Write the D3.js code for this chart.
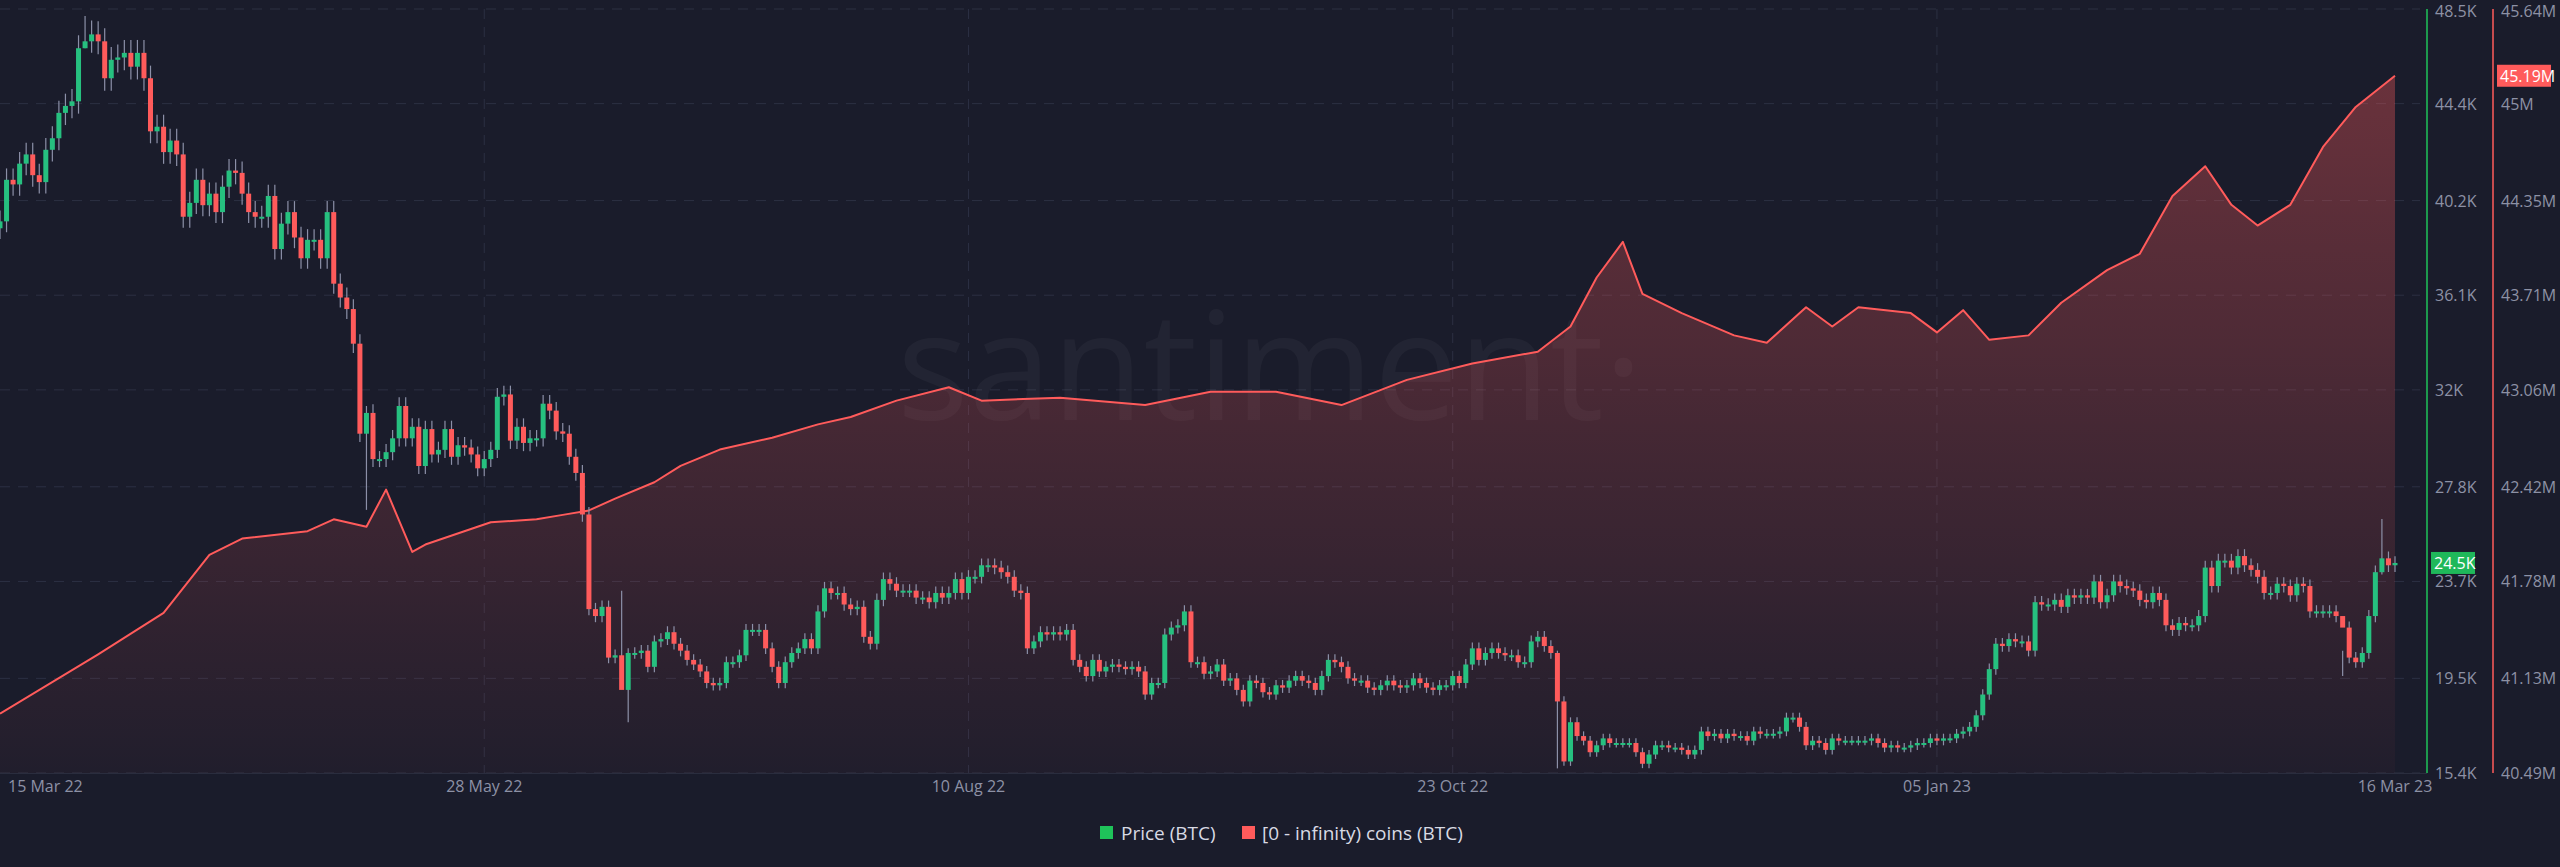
<!DOCTYPE html>
<html>
<head>
<meta charset="utf-8">
<script src="https://cdn.jsdelivr.net/npm/d3@7"></script>
<style>
  html, body { margin: 0; padding: 0; background: #1a1c2b; overflow: hidden; }
  text { font-family: "Open Sans", "DejaVu Sans", sans-serif; }
</style>
</head>
<body>
<script>
const w = 2560, h = 867;
const green = "#26c07f", red = "#ff5b5b", txt = "#8d91a5", grid = "#2c3043";

// daily closes (K USD), 15 Mar 2022 .. 16 Mar 2023
const closes = [
  39.3,41.1,40.9,41.8,42.2,41.3,41.0,42.4,42.9,44.0,44.3,44.5,46.8,47.1,47.4,47.1,45.5,
  46.3,46.4,46.6,46.0,46.6,45.5,43.2,43.4,42.3,42.8,42.2,39.5,40.1,41.1,40.0,40.5,39.7,40.8,41.5,41.4,40.5,39.7,39.5,39.5,40.4,38.1,39.2,39.7,38.6,37.7,
  38.5,38.5,37.7,39.7,36.6,36.0,35.5,34.0,30.1,31.0,29.0,29.0,29.3,29.9,31.3,29.9,30.4,28.7,30.3,29.2,29.4,30.3,29.1,29.6,29.5,29.2,28.6,29.0,29.4,31.7,31.8,
  29.8,30.4,29.7,29.9,29.9,31.4,31.1,30.2,30.1,29.1,28.4,26.6,22.5,22.2,22.6,20.4,20.5,19.0,20.6,20.6,20.7,20.0,21.1,21.2,21.5,21.0,20.7,20.3,20.1,19.8,
  19.3,19.2,19.3,20.2,20.2,20.5,21.6,21.6,21.6,20.8,20.0,19.3,20.2,20.6,20.8,21.2,20.8,22.4,23.4,23.2,23.2,22.7,22.5,22.6,21.3,21.0,22.9,23.8,23.6,23.3,23.3,
  23.3,23.0,23.0,22.8,23.2,23.0,23.2,23.8,23.2,23.9,23.9,24.4,24.4,24.3,24.1,23.9,23.3,23.2,20.8,21.1,21.5,21.4,21.5,21.4,21.6,20.3,20.0,19.6,20.3,19.8,20.0,
  20.1,20.0,19.9,20.0,19.8,18.8,19.3,19.3,21.4,21.7,21.8,22.4,20.2,20.2,19.7,19.8,20.1,19.4,19.5,19.0,18.5,19.4,19.3,18.9,18.8,19.2,19.1,19.4,19.6,19.4,
  19.3,19.0,19.6,20.3,20.2,20.0,19.5,19.4,19.4,19.1,19.0,19.2,19.4,19.2,19.1,19.2,19.5,19.3,19.1,19.0,19.2,19.2,19.6,19.3,20.1,20.8,20.3,20.6,20.8,20.6,20.5,
  20.5,20.2,20.2,21.1,21.3,20.9,20.6,18.5,15.9,17.6,17.0,16.8,16.3,16.6,16.9,16.7,16.7,16.7,16.7,16.3,15.8,16.2,16.6,16.6,16.5,16.5,16.4,16.2,16.4,17.2,
  17.0,17.1,16.9,17.1,17.0,17.0,16.8,17.2,17.1,17.1,17.1,17.2,17.8,17.8,17.4,16.6,16.8,16.7,16.4,16.9,16.8,16.8,16.8,16.8,16.8,16.9,16.7,16.5,16.6,16.5,16.5,
  16.6,16.7,16.7,16.9,16.8,16.9,16.9,17.1,17.2,17.4,17.9,18.8,19.9,21.0,20.9,21.2,21.1,21.1,20.7,22.8,22.7,22.7,22.9,22.6,23.1,23.0,23.1,23.0,23.7,22.8,23.1,
  23.7,23.5,23.4,23.3,22.9,22.8,23.2,22.9,21.8,21.6,21.9,21.8,21.8,22.2,24.3,23.5,24.6,24.6,24.3,24.8,24.4,24.2,23.9,23.2,23.2,23.6,23.5,23.1,
  23.6,23.5,22.4,22.4,22.4,22.4,22.2,21.7,20.4,20.2,20.6,22.2,24.1,24.7,24.4,24.5
];
const firstOpen = 39.0;
// notable wick extremes: [day index, high, low]
const wickExtremes = [[13,48.2,46.8],[14,48.0,46.6],[56,31.3,26.8],[95,23.3,20.1],[96,20.8,17.6],[238,20.7,15.6],[364,26.4,24.0],[358,20.7,19.6]];

// [0 - infinity) coins holdings readings (M BTC): [day index, value]
const holdDays = [0,15,25,32,37,47,51,56,59,63,65,75,82,86,90,94,100,104,110,118,125,130,137,145,150,162,175,185,195,205,215,225,235,240,244,248,251,257,265,270,276,280,284,292,296,300,304,310,315,322,327,332,337,341,345,350,355,360,366];
const holdVals = [40.89,41.29,41.57,41.96,42.07,42.12,42.20,42.15,42.40,41.98,42.03,42.18,42.20,42.23,42.26,42.34,42.45,42.56,42.67,42.75,42.84,42.89,43.00,43.09,43.00,43.02,42.97,43.06,43.06,42.97,43.14,43.25,43.33,43.50,43.83,44.07,43.72,43.59,43.44,43.39,43.63,43.50,43.63,43.59,43.46,43.61,43.41,43.44,43.66,43.88,43.99,44.38,44.58,44.32,44.18,44.32,44.71,44.98,45.19];

const priceTicks = [15.4,19.5,23.7,27.8,32,36.1,40.2,44.4,48.5];
const holdTicks = ["40.49M","41.13M","41.78M","42.42M","43.06M","43.71M","44.35M","45M","45.64M"];
const dateTicks = ["2022-03-15","2022-05-28","2022-08-10","2022-10-23","2023-01-05","2023-03-16"];
const dateLabels = ["15 Mar 22","28 May 22","10 Aug 22","23 Oct 22","05 Jan 23","16 Mar 23"];

const t0 = new Date(2022, 2, 15);
const day = i => d3.timeDay.offset(t0, i);

const x = d3.scaleTime().domain([t0, day(366)]).range([0, 2395]);
const yP = d3.scaleLinear().domain([15.4, 48.5]).range([773, 9]);
const yH = d3.scaleLinear().domain([40.49, 45.64]).range([773, 9]);

const svg = d3.select("body").append("svg").attr("width", w).attr("height", h);
svg.append("rect").attr("width", w).attr("height", h).attr("fill", "#1a1c2b");

// grid
const g = svg.append("g");
g.selectAll(".hg").data(priceTicks).enter().append("line")
  .attr("x1", 0).attr("x2", 2420).attr("y1", d => yP(d)).attr("y2", d => yP(d))
  .attr("stroke", grid).attr("stroke-dasharray", "10,8");
g.selectAll(".vg").data(dateTicks.slice(1, 5)).enter().append("line")
  .attr("x1", d => x(new Date(d))).attr("x2", d => x(new Date(d)))
  .attr("y1", 9).attr("y2", 773)
  .attr("stroke", grid).attr("stroke-dasharray", "10,8");
svg.append("line").attr("x1", 0).attr("x2", 2427).attr("y1", 773.5).attr("y2", 773.5).attr("stroke", "#2a2d3e");

// watermark
svg.append("text").text("santiment·").attr("x", 1270).attr("y", 420)
  .attr("text-anchor", "middle").attr("font-size", 150).attr("fill", "#ffffff").attr("opacity", 0.035);

// holdings area
const defs = svg.append("defs");
const grad = defs.append("linearGradient").attr("id", "hg").attr("x1", 0).attr("x2", 0).attr("y1", 0).attr("y2", 1);
grad.append("stop").attr("offset", "0%").attr("stop-color", red).attr("stop-opacity", 0.35);
grad.append("stop").attr("offset", "100%").attr("stop-color", red).attr("stop-opacity", 0.03);

const hold = holdDays.map((d, i) => ({ t: day(d), v: holdVals[i] }));
svg.append("path").datum(hold)
  .attr("d", d3.area().x(d => x(d.t)).y0(773).y1(d => yH(d.v)))
  .attr("fill", "url(#hg)");
svg.append("path").datum(hold)
  .attr("d", d3.line().x(d => x(d.t)).y(d => yH(d.v)))
  .attr("fill", "none").attr("stroke", red).attr("stroke-width", 2).attr("stroke-linejoin", "round");

// candles
const candles = closes.map((c, i) => {
  const o = i === 0 ? firstOpen : closes[i - 1];
  let hi = Math.max(o, c) * 1.012, lo = Math.min(o, c) * 0.988;
  const ex = wickExtremes.find(e => e[0] === i);
  if (ex) { hi = ex[1]; lo = ex[2]; }
  return { t: day(i), o, c, hi, lo };
});
const cw = 5;
const cg = svg.append("g");
cg.selectAll(".wick").data(candles).enter().append("line")
  .attr("x1", d => x(d.t)).attr("x2", d => x(d.t))
  .attr("y1", d => yP(d.hi)).attr("y2", d => yP(d.lo))
  .attr("stroke", "#8c90a8").attr("stroke-width", 1.2);
cg.selectAll(".body").data(candles).enter().append("rect")
  .attr("x", d => x(d.t) - cw / 2).attr("width", cw)
  .attr("y", d => yP(Math.max(d.o, d.c)))
  .attr("height", d => Math.max(2, Math.abs(yP(d.o) - yP(d.c))))
  .attr("fill", d => d.c >= d.o ? green : red);

// axes
svg.append("line").attr("x1", 2427).attr("x2", 2427).attr("y1", 9).attr("y2", 773).attr("stroke", "#1fc35a").attr("stroke-width", 1.5);
svg.append("line").attr("x1", 2493).attr("x2", 2493).attr("y1", 9).attr("y2", 773).attr("stroke", red).attr("stroke-width", 1.5);

svg.selectAll(".pt").data(priceTicks).enter().append("text")
  .attr("x", 2435).attr("y", d => Math.max(yP(d) + 6, 17)).attr("font-size", 16).attr("fill", txt)
  .text(d => d + "K");
svg.selectAll(".ht").data(holdTicks).enter().append("text")
  .attr("x", 2501).attr("y", (d, i) => Math.max(yP(priceTicks[i]) + 6, 17)).attr("font-size", 16).attr("fill", txt)
  .text(d => d);

// last value tags
const lastP = closes[closes.length - 1], lastH = holdVals[holdVals.length - 1];
svg.append("rect").attr("x", 2431).attr("y", yP(lastP) - 11).attr("width", 44).attr("height", 22).attr("fill", "#1fb85a");
svg.append("text").attr("x", 2434).attr("y", yP(lastP) + 6).attr("font-size", 16).attr("fill", "#fff").text(lastP + "K");
svg.append("rect").attr("x", 2497).attr("y", yH(lastH) - 11).attr("width", 54).attr("height", 22).attr("fill", red);
svg.append("text").attr("x", 2500).attr("y", yH(lastH) + 6).attr("font-size", 16).attr("fill", "#fff").text(lastH + "M");

// date labels
svg.selectAll(".dl").data(dateTicks).enter().append("text")
  .attr("x", (d, i) => i === 0 ? 8 : x(new Date(d)))
  .attr("y", 792).attr("font-size", 16).attr("fill", txt)
  .attr("text-anchor", (d, i) => i === 0 ? "start" : "middle")
  .text((d, i) => dateLabels[i]);

// legend
const lg = svg.append("g").attr("transform", "translate(1100,833)");
lg.append("rect").attr("x", 0).attr("y", -7).attr("width", 13).attr("height", 13).attr("fill", "#1fc35a");
lg.append("text").attr("x", 21).attr("y", 7).attr("font-size", 19).attr("fill", "#d8dae4").text("Price (BTC)");
lg.append("rect").attr("x", 142).attr("y", -7).attr("width", 13).attr("height", 13).attr("fill", red);
lg.append("text").attr("x", 162).attr("y", 7).attr("font-size", 19).attr("fill", "#d8dae4").text("[0 - infinity) coins (BTC)");
</script>
</body>
</html>
